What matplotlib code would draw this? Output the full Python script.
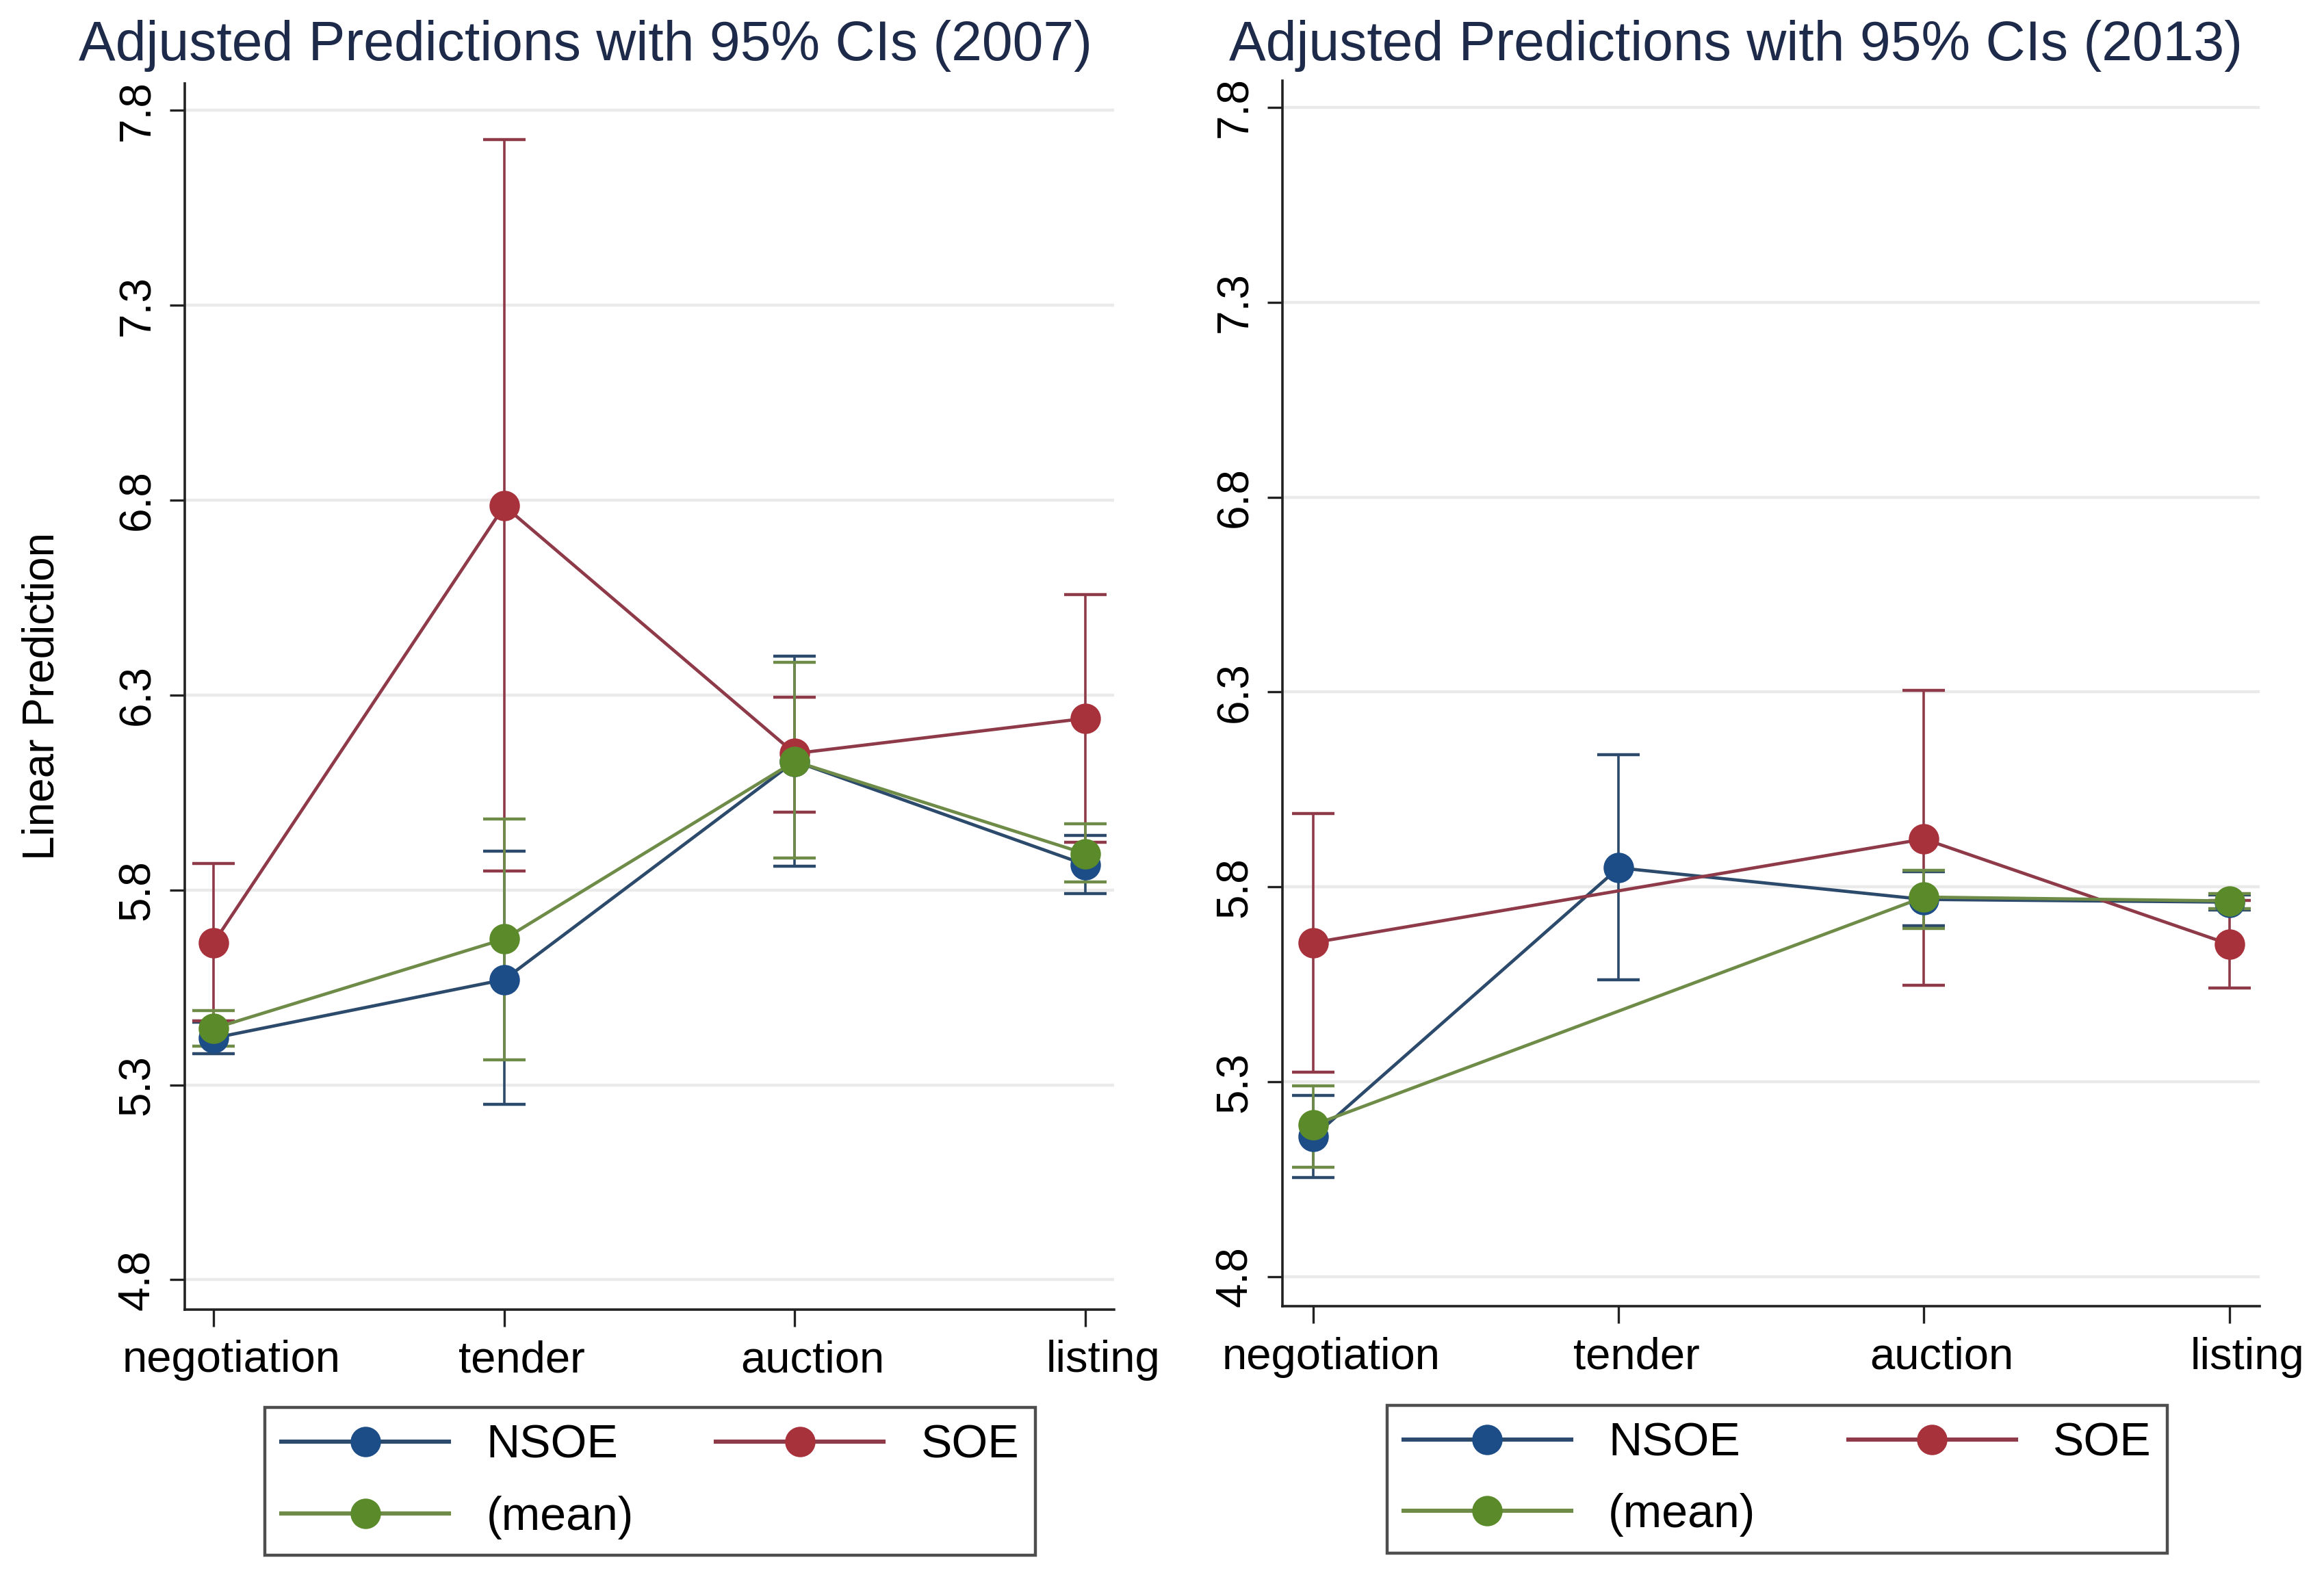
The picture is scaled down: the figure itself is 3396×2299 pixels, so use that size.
import numpy as np
import matplotlib
matplotlib.use("Agg")
import matplotlib.pyplot as plt
from matplotlib.lines import Line2D
from matplotlib.transforms import ScaledTranslation

plt.rcParams['font.family'] = ['Liberation Sans', 'DejaVu Sans']

categories = ['negotiation', 'tender', 'auction', 'listing']
yticks = [4.8, 5.3, 5.8, 6.3, 6.8, 7.3, 7.8]
series_names = ['NSOE', 'SOE', '(mean)']
nan = np.nan

# 2007 panel
nsoe_07 = [5.42, 5.57, 6.13, 5.865]
nsoe_07_lo = [5.38, 5.25, 5.86, 5.79]
nsoe_07_hi = [5.46, 5.90, 6.40, 5.94]
soe_07 = [5.665, 6.785, 6.15, 6.24]
soe_07_lo = [5.465, 5.848, 6.00, 5.922]
soe_07_hi = [5.867, 7.725, 6.294, 6.558]
mean_07 = [5.445, 5.674, 6.13, 5.893]
mean_07_lo = [5.40, 5.364, 5.882, 5.82]
mean_07_hi = [5.49, 5.982, 6.384, 5.97]

# 2013 panel
nsoe_13 = [5.159, 5.849, 5.768, 5.761]
nsoe_13_lo = [5.055, 5.562, 5.70, 5.74]
nsoe_13_hi = [5.265, 6.139, 5.84, 5.78]
soe_13 = [5.657, nan, 5.923, 5.653]
soe_13_lo = [5.324, nan, 5.547, 5.541]
soe_13_hi = [5.988, nan, 6.304, 5.765]
mean_13 = [5.189, nan, 5.774, 5.764]
mean_13_lo = [5.081, nan, 5.693, 5.745]
mean_13_hi = [5.29, nan, 5.842, 5.783]

line_colors = ['#2c4a6b', '#8e3a48', '#6e8c48']
marker_colors = ['#1d4d87', '#a8323c', '#5b8a2b']
title_color = '#1e2a4a'

fig = plt.figure(figsize=(16.98, 11.495), dpi=200)
fig.patch.set_facecolor('white')

W, H = 1560.0, 1056.0
ax1 = fig.add_axes([124 / W, 1 - 879 / H, (748 - 124) / W, (879 - 56) / H])
ax2 = fig.add_axes([861 / W, 1 - 877 / H, (1517 - 861) / W, (877 - 54) / H])

panels = [
    (ax1, [(nsoe_07, nsoe_07_lo, nsoe_07_hi), (soe_07, soe_07_lo, soe_07_hi), (mean_07, mean_07_lo, mean_07_hi)]),
    (ax2, [(nsoe_13, nsoe_13_lo, nsoe_13_hi), (soe_13, soe_13_lo, soe_13_hi), (mean_13, mean_13_lo, mean_13_hi)]),
]

x = np.arange(1, len(categories) + 1)
for ax, data in panels:
    for k, (m, lo, hi) in enumerate(data):
        m = np.array(m, dtype=float)
        lo = np.array(lo, dtype=float)
        hi = np.array(hi, dtype=float)
        ok = ~np.isnan(m)
        ax.errorbar(x[ok], m[ok], yerr=[m[ok] - lo[ok], hi[ok] - m[ok]], fmt='none',
                    ecolor=line_colors[k], elinewidth=1.3, capsize=11, capthick=1.6,
                    zorder=3 + k)
    for k, (m, lo, hi) in enumerate(data):
        m = np.array(m, dtype=float)
        ok = ~np.isnan(m)
        ax.plot(x[ok], m[ok], '-', color=line_colors[k], lw=1.7, zorder=6 + k)
        ax.plot(x[ok], m[ok], 'o', color=marker_colors[k], ms=15, mec=marker_colors[k],
                zorder=6 + k)
    ax.set_xlim(0.9, 4.1)
    ax.set_ylim(4.724, 7.869)
    ax.set_yticks(yticks)
    ax.set_yticklabels([f'{v:.1f}' for v in yticks], rotation=90, va='center', fontsize=23)
    ax.set_xticks(x)
    ax.set_xticklabels(categories, fontsize=23.5)
    ax.grid(axis='y', color='#eaeaea', lw=1.6)
    ax.set_axisbelow(True)
    for s in ['top', 'right']:
        ax.spines[s].set_visible(False)
    for s in ['left', 'bottom']:
        ax.spines[s].set_linewidth(1.3)
        ax.spines[s].set_color('#222222')
    ax.tick_params(axis='y', length=8, width=1.2, pad=6, color='#222222')
    ax.tick_params(axis='x', length=9, width=1.2, pad=7, color='#222222')
    ax.set_facecolor('white')
    shift = ScaledTranslation(26 / 200.0, 0, fig.dpi_scale_trans)
    for tk in ax.xaxis.get_major_ticks():
        tk.label1.set_transform(tk.label1.get_transform() + shift)

ax1.set_ylabel('Linear Prediction', fontsize=23)
ax1.yaxis.set_label_coords((42 - 124) / 624.0, 0.5)

fig.text(393 / W, 1 - 31 / H, 'Adjusted Predictions with 95% CIs (2007)', ha='center', va='center',
         fontsize=29, color=title_color)
fig.text(1165 / W, 1 - 31 / H, 'Adjusted Predictions with 95% CIs (2013)', ha='center', va='center',
         fontsize=29, color=title_color)

handles = [Line2D([0], [0], color=line_colors[k], lw=2.2, marker='o', ms=15,
                  mfc=marker_colors[k], mec=marker_colors[k]) for k in range(3)]
# column-wise filling: first column NSOE, (mean); second column SOE
order = [0, 2, 1]

for x0, x1, y0, y1 in [(178, 695, 946, 1043), (931, 1455, 943, 1043)]:
    leg = fig.legend([handles[i] for i in order], [series_names[i] for i in order],
                     ncol=2, loc='center',
                     bbox_to_anchor=(x0 / W, 1 - y1 / H, (x1 - x0) / W, (y1 - y0) / H),
                     mode='expand', fontsize=24.5,
                     frameon=True, fancybox=False,
                     handlelength=3.6, handletextpad=0.8, columnspacing=2.0,
                     borderpad=0.35, labelspacing=0.6, borderaxespad=0)
    leg.get_frame().set_edgecolor('#222222')
    leg.get_frame().set_linewidth(1.6)

fig.savefig('out.png', dpi=200, facecolor='white')
